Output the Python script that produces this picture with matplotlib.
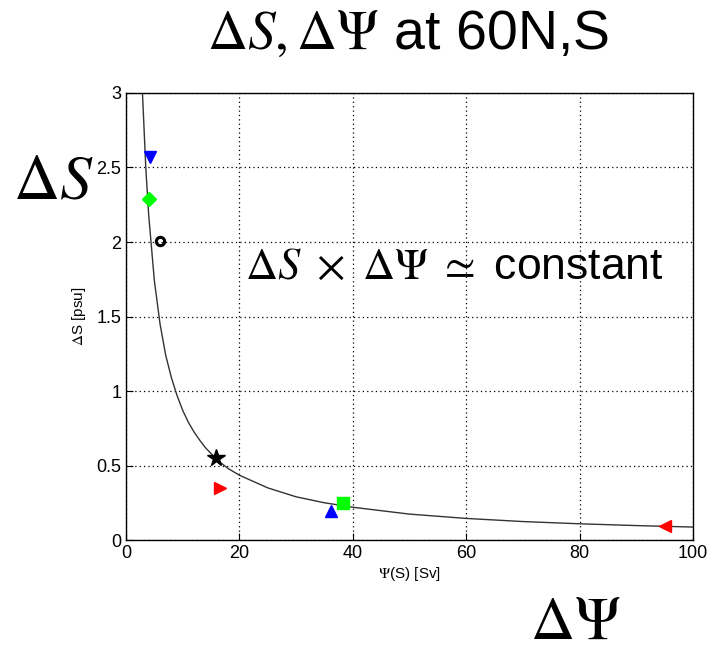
import matplotlib
matplotlib.use('Agg')
import matplotlib.pyplot as plt
import numpy as np

plt.rcParams['font.family'] = ['Liberation Sans', 'DejaVu Sans']
plt.rcParams['mathtext.fontset'] = 'stix'

# кривая dS * dPsi = const, точки сняты по графику
curve_psi = [2.9, 3.5, 4, 5, 6, 7, 8, 9, 10, 11, 12, 13, 14, 16, 18, 20, 25,
             30, 35, 40, 50, 60, 70, 80, 90, 100]
curve_ds = [3.0, 2.49, 2.18, 1.74, 1.45, 1.24, 1.09, 0.97, 0.87, 0.79, 0.725,
            0.67, 0.62, 0.54, 0.48, 0.435, 0.35, 0.29, 0.25, 0.22, 0.174,
            0.145, 0.124, 0.109, 0.097, 0.087]

# отдельные модели
model_psi = [4.2, 4.1, 6.0, 15.9, 16.6, 36.2, 38.3, 95.1]
model_ds = [2.57, 2.29, 2.01, 0.55, 0.35, 0.195, 0.25, 0.094]
model_marker = ['v', 'D', 'o', '*', '>', '^', 's', '<']
model_color = ['blue', '#00ff00', 'black', 'black', 'red', 'blue', '#00ff00', 'red']

fig = plt.figure(figsize=(7.14, 6.53), dpi=100)
ax = fig.add_axes([0.1765, 0.173, 0.794, 0.6846])

ax.plot(curve_psi, curve_ds, color='#333333', linewidth=1.0, zorder=2)

for px, py, m, c in zip(model_psi, model_ds, model_marker, model_color):
    if m == 'o':
        ax.plot(px, py, marker='o', markersize=6, markerfacecolor='none',
                markeredgecolor=c, markeredgewidth=2.2, linestyle='none', zorder=3)
    elif m == '*':
        ax.plot(px, py, marker='*', markersize=13, color=c, linestyle='none', zorder=3)
    elif m == 'D':
        ax.plot(px, py, marker='D', markersize=7, color=c, linestyle='none', zorder=3)
    else:
        ax.plot(px, py, marker=m, markersize=9, color=c, linestyle='none', zorder=3)

ax.set_xlim(0, 100)
ax.set_ylim(0, 3)
ax.set_xticks([0, 20, 40, 60, 80, 100])
ax.set_yticks([0, 0.5, 1, 1.5, 2, 2.5, 3])
ax.set_yticklabels(['0', '0.5', '1', '1.5', '2', '2.5', '3'])
ax.grid(True, color='black', linestyle=(0, (1, 2.5)), linewidth=0.9)
ax.tick_params(direction='in', labelsize=13, length=5, top=False, right=False)
for s in ax.spines.values():
    s.set_linewidth(1.0)

ax.set_xlabel(r'$\Psi$(S) [Sv]', fontsize=11, labelpad=2)
ax.set_ylabel(r'$\Delta$S [psu]', fontsize=11, labelpad=6)

# подписи поверх графика
fig.text(0.572, 0.946, r'$\Delta S, \Delta\Psi$ at 60N,S', fontsize=40,
         ha='center', va='center')
fig.text(0.018, 0.722, r'$\Delta S$', fontsize=46, ha='left', va='center')
fig.text(0.343, 0.59, r'$\Delta S\ \times\ \Delta\Psi\ \simeq$ constant', fontsize=32,
         ha='left', va='center')
fig.text(0.742, 0.045, r'$\Delta\Psi$', fontsize=44, ha='left', va='center')

plt.savefig('out.png', dpi=100)
